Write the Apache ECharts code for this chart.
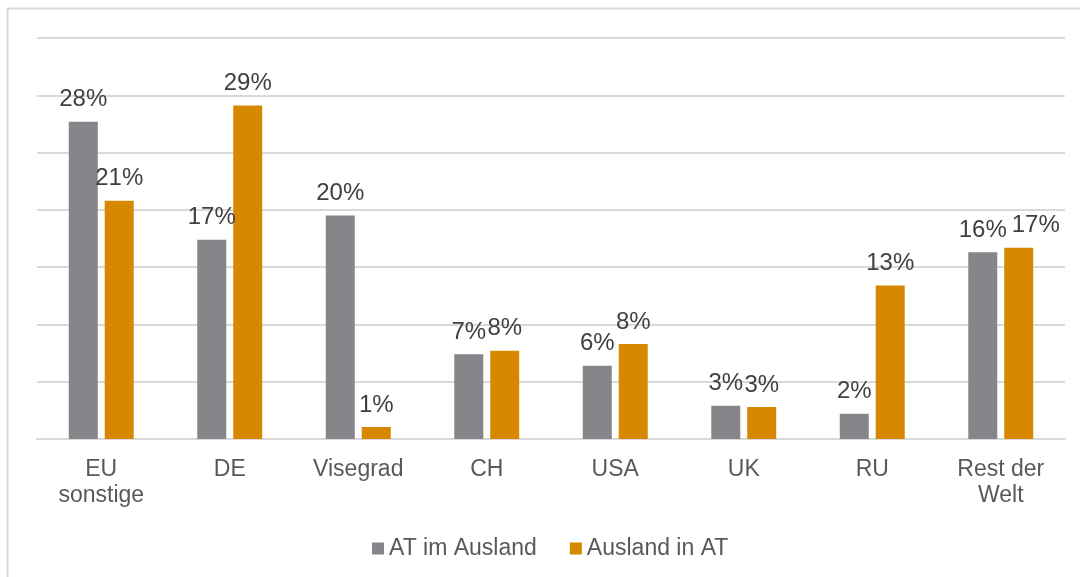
<!DOCTYPE html>
<html>
<head>
<meta charset="utf-8">
<script src="https://cdn.jsdelivr.net/npm/echarts@6/dist/echarts.min.js"></script>
<style>
  html, body { margin: 0; padding: 0; background: #fff; }
  #main { width: 1080px; height: 577px; }
</style>
</head>
<body>
<div id="main"></div>
<script>
// Kategorien und Werte (in %)
const categories = ['EU\nsonstige', 'DE', 'Visegrad', 'CH', 'USA', 'UK', 'RU', 'Rest der\nWelt']
const atImAusland = [27.7, 17.4, 19.5, 7.4, 6.4, 2.9, 2.2, 16.3]
const auslandInAt = [20.8, 29.1, 1.05, 7.7, 8.3, 2.8, 13.4, 16.7]
const seriesNames = ['AT im Ausland', 'Ausland in AT']

const myChart = echarts.init(document.getElementById('main'))

const labelStyle = {
  show: true,
  position: 'top',
  distance: 10,
  color: '#404040',
  fontSize: 24,
  fontFamily: 'Liberation Sans, Arial, sans-serif',
  formatter: (p) => Math.round(p.value) + '%'
}

const option = {
  animation: false,
  textStyle: { fontFamily: 'Liberation Sans, Arial, sans-serif' },
  color: ['#868589', '#d68800'],
  graphic: [{
    type: 'rect',
    shape: { x: 7.5, y: 8.5, width: 1100, height: 600 },
    style: { fill: 'none', stroke: '#d9d9d9', lineWidth: 2 },
    silent: true
  }],
  grid: {
    left: 37,
    right: 15,
    top: 38,
    bottom: 138
  },
  legend: {
    left: 367,
    bottom: 12,
    itemWidth: 12,
    itemHeight: 12,
    itemGap: 33,
    icon: 'rect',
    textStyle: { color: '#595959', fontSize: 23 },
    data: seriesNames
  },
  xAxis: {
    type: 'category',
    data: categories,
    axisLine: { lineStyle: { color: '#d9d9d9', width: 2 } },
    axisTick: { show: false },
    axisLabel: {
      color: '#595959',
      fontSize: 23,
      lineHeight: 26,
      margin: 18,
      interval: 0
    }
  },
  yAxis: {
    type: 'value',
    min: 0,
    max: 35,
    interval: 5,
    axisLabel: { show: false },
    axisLine: { show: false },
    axisTick: { show: false },
    splitLine: { lineStyle: { color: '#d9d9d9', width: 2 } }
  },
  series: [
    {
      name: seriesNames[0],
      type: 'bar',
      barWidth: 29,
      barGap: '24%',
      data: atImAusland,
      label: labelStyle
    },
    {
      name: seriesNames[1],
      type: 'bar',
      barWidth: 29,
      barGap: '24%',
      data: auslandInAt.map((v, i) => i === 7 ? { value: v, label: { offset: [17, 0] } } : v),
      label: labelStyle
    }
  ]
}

myChart.setOption(option)
</script>
</body>
</html>
